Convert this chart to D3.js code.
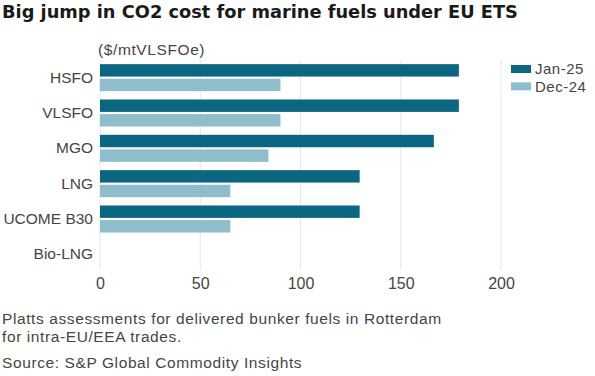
<!DOCTYPE html>
<html lang="en">
<head>
  <meta charset="UTF-8" />
  <title>Big jump in CO2 cost for marine fuels under EU ETS</title>
  <script src="https://cdn.jsdelivr.net/npm/d3@7"></script>
  <style>
    html, body { margin: 0; padding: 0; background: #fff; overflow: hidden; }
    svg { display: block; font-family: "Liberation Sans", Arial, sans-serif; }
  </style>
</head>
<body>
  <script>
    // ------ Data ------
    const categories = ["HSFO", "VLSFO", "MGO", "LNG", "UCOME B30", "Bio-LNG"];
    const seriesNames = ["Jan-25", "Dec-24"];
    const jan25 = [179, 179, 166.5, 129.5, 129.5, 0];
    const dec24 = [90, 90, 84, 65, 65, 0];
    const xTicks = [0, 50, 100, 150, 200];

    const width = 595, height = 376;
    const colors = { "Jan-25": "#0b6682", "Dec-24": "#8fbdcc" };
    const textColor = "#454545";
    const font = "'Liberation Sans', Arial, sans-serif";

    const rows = categories.map((c, i) => ({
      cat: c,
      values: [{ key: "Jan-25", v: jan25[i] }, { key: "Dec-24", v: dec24[i] }]
    }));

    const svg = d3.select("body").append("svg")
      .attr("width", width)
      .attr("height", height);

    // ------ Scales ------
    const x = d3.scaleLinear().domain([0, 200]).range([100, 501]);
    const y = d3.scaleBand().domain(categories)
      .range([60, 272]).paddingInner(0.235).paddingOuter(0.1175);
    const ySub = d3.scaleBand().domain(seriesNames)
      .range([0, y.bandwidth()]).paddingInner(0.15);

    // ------ Title ------
    svg.append("text")
      .attr("x", 2).attr("y", 17.5)
      .attr("font-family", "'DejaVu Sans', sans-serif")
      .attr("font-size", 17.8).attr("font-weight", 700)
      .attr("fill", "#1a1a1a")
      .text("Big jump in CO2 cost for marine fuels under EU ETS");

    svg.append("text")
      .attr("x", 98).attr("y", 55)
      .attr("font-size", 15.5)
      .attr("letter-spacing", 0.6)
      .attr("fill", textColor)
      .text("($/mtVLSFOe)");

    // ------ Grid ------
    svg.append("g")
      .selectAll("line")
      .data(xTicks)
      .join("line")
      .attr("x1", d => x(d)).attr("x2", d => x(d))
      .attr("y1", 60).attr("y2", 270)
      .attr("stroke", "#e6e6e6").attr("stroke-width", 1);

    // ------ Bars ------
    const groups = svg.append("g")
      .selectAll("g")
      .data(rows)
      .join("g")
      .attr("transform", d => `translate(0,${y(d.cat)})`);

    groups.selectAll("rect")
      .data(d => d.values)
      .join("rect")
      .attr("x", x(0))
      .attr("y", d => ySub(d.key))
      .attr("width", d => x(d.v) - x(0))
      .attr("height", ySub.bandwidth())
      .attr("fill", d => colors[d.key]);

    // ------ Axes ------
    const yAxis = svg.append("g")
      .attr("transform", `translate(${x(0) - 7},0)`)
      .call(d3.axisLeft(y).tickSize(0).tickPadding(0));
    yAxis.select(".domain").remove();
    yAxis.selectAll("text")
      .attr("font-size", 15.5)
      .attr("font-family", font)
      .attr("fill", textColor);

    const xAxis = svg.append("g")
      .attr("transform", "translate(0,283)")
      .call(d3.axisBottom(x).tickValues(xTicks).tickSize(0).tickPadding(0));
    xAxis.select(".domain").remove();
    xAxis.selectAll("text")
      .attr("dy", "0.35em")
      .attr("font-size", 16)
      .attr("font-family", font)
      .attr("fill", textColor);

    // ------ Legend ------
    const legend = svg.append("g")
      .selectAll("g")
      .data(seriesNames)
      .join("g")
      .attr("transform", (d, i) => `translate(511,${65 + i * 17.3})`);
    legend.append("rect")
      .attr("width", 20).attr("height", 8)
      .attr("fill", d => colors[d]);
    legend.append("text")
      .attr("x", 24).attr("y", 4).attr("dy", "0.35em")
      .attr("font-size", 15)
      .attr("letter-spacing", 0.5)
      .attr("fill", textColor)
      .text(d => d);

    // ------ Footnotes ------
    const notes = [
      { t: "Platts assessments for delivered bunker fuels in Rotterdam", y: 324 },
      { t: "for intra-EU/EEA trades.", y: 342 },
      { t: "Source: S&P Global Commodity Insights", y: 368 }
    ];
    svg.append("g")
      .selectAll("text")
      .data(notes)
      .join("text")
      .attr("x", 2).attr("y", d => d.y)
      .attr("font-size", 15.5)
      .attr("letter-spacing", 0.6)
      .attr("fill", textColor)
      .text(d => d.t);
  </script>
</body>
</html>
